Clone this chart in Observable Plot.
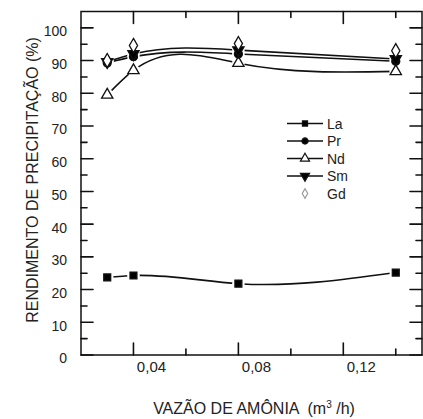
<!DOCTYPE html>
<html>
<head>
<meta charset="utf-8">
<script src="https://cdn.jsdelivr.net/npm/d3@7"></script>
<script src="https://cdn.jsdelivr.net/npm/@observablehq/plot@0.6"></script>
<style>
  html, body { margin: 0; padding: 0; background: #fff; }
  svg { display: block; }
</style>
</head>
<body>
<div id="chart"></div>
<script>
// ---- data ----
const flows = [0.03, 0.04, 0.08, 0.14];           // m3/h
const La = [23.7, 24.3, 21.8, 25.2];
const Pr = [89.3, 91.2, 92.0, 89.8];
const Nd = [79.5, 87.0, 89.2, 86.7];
const Sm = [89.6, 92.0, 93.2, 90.5];
const Gd = [90.0, 94.6, 95.2, 93.0];
const seriesNames = ["La", "Pr", "Nd", "Sm", "Gd"];
const xMajorTicks = [0.04, 0.08, 0.12];
const xMinorTicks = [0.06, 0.10, 0.14];
const yMajorTicks = [0, 10, 20, 30, 40, 50, 60, 70, 80, 90, 100];
const yMinorTicks = [5, 15, 25, 35, 45, 55, 65, 75, 85, 95];
const xTickLabels = ["0,04", "0,08", "0,12"];
const xDomain = [0.02, 0.15];
const yDomain = [0, 105];

// natural cubic spline y(x) as a d3 curve factory
function splineCurve(context) {
  let xs, ys;
  return {
    areaStart() {}, areaEnd() {},
    lineStart() { xs = []; ys = []; },
    point(x, y) { xs.push(+x); ys.push(+y); },
    lineEnd() {
      const n = xs.length - 1;
      if (n < 0) return;
      context.moveTo(xs[0], ys[0]);
      if (n === 0) return;
      const h = d3.range(n).map(i => xs[i + 1] - xs[i]);
      const M = new Array(n + 1).fill(0);
      if (n > 1) {
        const a = [], b = [], c = [], d = [];
        for (let i = 1; i < n; i++) {
          a.push(h[i - 1]); b.push(2 * (h[i - 1] + h[i])); c.push(h[i]);
          d.push(6 * ((ys[i + 1] - ys[i]) / h[i] - (ys[i] - ys[i - 1]) / h[i - 1]));
        }
        const m = b.length;
        for (let i = 1; i < m; i++) {
          const w = a[i] / b[i - 1];
          b[i] -= w * c[i - 1]; d[i] -= w * d[i - 1];
        }
        const sol = new Array(m);
        sol[m - 1] = d[m - 1] / b[m - 1];
        for (let i = m - 2; i >= 0; i--) sol[i] = (d[i] - c[i] * sol[i + 1]) / b[i];
        for (let i = 1; i < n; i++) M[i] = sol[i - 1];
      }
      const slope = i => i < n
        ? (ys[i + 1] - ys[i]) / h[i] - h[i] * (2 * M[i] + M[i + 1]) / 6
        : (ys[n] - ys[n - 1]) / h[n - 1] + h[n - 1] * (M[n - 1] + 2 * M[n]) / 6;
      for (let i = 0; i < n; i++) {
        const s0 = slope(i), s1 = slope(i + 1), k = h[i] / 3;
        context.bezierCurveTo(xs[i] + k, ys[i] + s0 * k, xs[i + 1] - k, ys[i + 1] - s1 * k, xs[i + 1], ys[i + 1]);
      }
    }
  };
}

const invTriangle = {
  draw(ctx, size) {
    const y = -Math.sqrt(size / (3 * Math.sqrt(3)));
    ctx.moveTo(0, -2 * y);
    ctx.lineTo(-Math.sqrt(3) * y, y);
    ctx.lineTo(Math.sqrt(3) * y, y);
    ctx.closePath();
  }
};

const style = {
  La: {symbol: "square", fill: "black", r: 3.9, line: true, lg: 26},
  Pr: {symbol: "circle", fill: "black", r: 4, line: true, lg: 30},
  Nd: {symbol: "triangle", fill: "white", r: 4.2, line: true, lg: 36},
  Sm: {symbol: invTriangle, fill: "black", r: 4.2, line: true, lg: 36},
  Gd: {symbol: "diamond", fill: "white", r: 4.3, line: false, lg: 26}
};
const values = {La, Pr, Nd, Sm, Gd};
const rows = seriesNames.flatMap(s => flows.map((f, i) => ({series: s, x: f, y: values[s][i]})));

const W = 423, H = 419;
const mL = 80.5, mR = 1.5, mT = 11, mB = 64.5;
const font = "Liberation Sans, Arial, Helvetica, sans-serif";
const ink = "#111";

// tick segments: pixel lengths converted to data units of each scale
const kx = (xDomain[1] - xDomain[0]) / (W - mL - mR);   // data units per px (x)
const ky = (yDomain[1] - yDomain[0]) / (H - mT - mB);   // data units per px (y)
const tickSegs = [];
let tid = 0;
for (const [vals, len] of [[yMajorTicks, 12], [yMinorTicks, 6]]) {
  for (const v of vals) {
    tickSegs.push({id: tid, x: xDomain[0], y: v}, {id: tid++, x: xDomain[0] + len * kx, y: v});
    tickSegs.push({id: tid, x: xDomain[1], y: v}, {id: tid++, x: xDomain[1] - len * kx, y: v});
  }
}
for (const [vals, len] of [[xMajorTicks, 12], [xMinorTicks, 6]]) {
  for (const v of vals) {
    tickSegs.push({id: tid, x: v, y: yDomain[0]}, {id: tid++, x: v, y: yDomain[0] + len * ky});
    tickSegs.push({id: tid, x: v, y: yDomain[1]}, {id: tid++, x: v, y: yDomain[1] - len * ky});
  }
}

const marks = [];
for (const s of seriesNames) {
  if (!style[s].line) continue;
  marks.push(Plot.line(rows.filter(d => d.series === s), {x: "x", y: "y", curve: splineCurve, stroke: ink, strokeWidth: 1.6}));
}
marks.push(Plot.dot(rows, {x: "x", y: "y", r: 6.3, fill: "white", stroke: "none"}));
for (const s of ["La", "Nd", "Pr", "Sm", "Gd"]) {
  const st = style[s];
  marks.push(Plot.dot(rows.filter(d => d.series === s), {x: "x", y: "y", symbol: () => st.symbol, r: st.r, fill: st.fill, stroke: ink, strokeWidth: 1.3}));
}
marks.push(Plot.line(tickSegs, {x: "x", y: "y", z: "id", stroke: ink, strokeWidth: 1.6}));
marks.push(Plot.axisY(yMajorTicks, {anchor: "left", tickSize: 0, tickPadding: 14, dy: 4, fontSize: 14, color: "#222", label: null}));
marks.push(Plot.axisX(xMajorTicks, {anchor: "bottom", tickSize: 0, tickPadding: 6, dx: 18, fontSize: 15, color: "#222", label: null, tickFormat: d => xTickLabels[xMajorTicks.indexOf(d)]}));
marks.push(Plot.frame({stroke: ink, strokeWidth: 1.5}));

const plot = Plot.plot({
  width: W, height: H,
  marginLeft: mL, marginRight: mR, marginTop: mT, marginBottom: mB,
  style: {fontFamily: font, background: "white", color: "black"},
  x: {domain: xDomain},
  y: {domain: yDomain},
  marks
});
document.getElementById("chart").appendChild(plot);

const svg = d3.select(plot);

// ---- titles & legend ----
svg.append("text")
  .attr("transform", "translate(38,180) rotate(-90)")
  .attr("text-anchor", "middle")
  .attr("font-family", font).attr("font-size", 16).attr("fill", "#222")
  .text("RENDIMENTO DE PRECIPITAÇÃO (%)");
const xt = svg.append("text")
  .attr("x", 254).attr("y", 414)
  .attr("text-anchor", "middle")
  .attr("font-family", font).attr("font-size", 16).attr("fill", "#222");
xt.append("tspan").text("VAZÃO DE AMÔNIA  (m");
xt.append("tspan").attr("font-size", 10).attr("dy", -6).text("3");
xt.append("tspan").attr("dy", 6).text(" /h)");

const d3sym = {square: d3.symbolSquare, circle: d3.symbolCircle, triangle: d3.symbolTriangle, diamond: d3.symbolDiamond};
const lg = svg.append("g");
seriesNames.forEach((s, i) => {
  const y = 123.5 + i * 17.5;
  const st = style[s];
  if (st.line) {
    lg.append("line").attr("x1", 287).attr("x2", 323).attr("y1", y).attr("y2", y).attr("stroke", ink).attr("stroke-width", 1.5);
  }
  const symType = typeof st.symbol === "string" ? d3sym[st.symbol] : st.symbol;
  lg.append("path")
    .attr("transform", `translate(305,${y})`)
    .attr("d", d3.symbol(symType, st.lg)())
    .attr("fill", st.fill).attr("stroke", s === "Gd" ? "#999" : ink).attr("stroke-width", 1.2);
  lg.append("text").attr("x", 327).attr("y", y + 5)
    .attr("text-anchor", "start")
    .attr("font-family", font).attr("font-size", 14).attr("fill", "#222").text(s);
});
</script>
</body>
</html>
